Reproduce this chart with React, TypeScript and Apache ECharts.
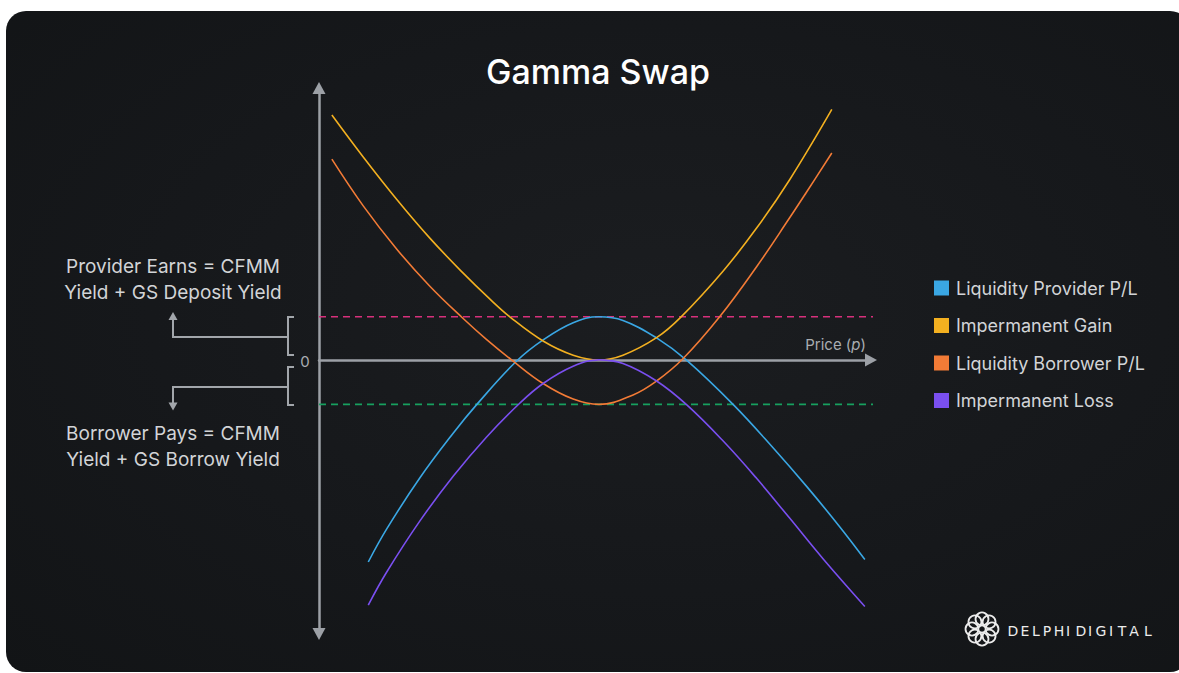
import React, { useEffect, useRef } from "react";
import * as echarts from "echarts";

// Curve samples: [price, P/L] pairs, price axis 0..~99, P/L axis centred on 0
const providerPL: [number, number][] = [
  [8.8, -72.7], [12.1, -60.8], [18.0, -42.5], [24.0, -26.3], [28.2, -16.0], [35.3, -0.4],
  [40.1, 7.3], [45.4, 13.4], [50, 15.5], [54.3, 14.2], [60.3, 7.9], [65.7, -0.2],
  [74.0, -16.1], [81.1, -31.6], [87.1, -45.5], [93.0, -60.0], [97.5, -71.8],
];
const impermanentGain: [number, number][] = [
  [2.3, 88.1], [7.9, 73.0], [13.9, 57.7], [19.8, 43.8], [25.8, 31.1], [30.4, 22.1],
  [34.2, 15.3], [40.1, 6.7], [45.4, 1.7], [50, 0], [54.3, 1.7], [60.3, 8.0],
  [64.5, 15.1], [72.2, 32.0], [78.2, 47.5], [84.1, 64.9], [91.6, 90.1],
];
const borrowerPL: [number, number][] = [
  [2.3, 72.2], [7.9, 55.4], [13.9, 39.8], [19.8, 26.5], [25.8, 14.8], [29.9, 7.4],
  [34.4, 0], [40.1, -8.6], [45.4, -14.1], [50, -16.0], [56.1, -12.6], [60.3, -7.6],
  [65.0, 0.4], [71.6, 15.6], [78.2, 33.6], [84.1, 51.2], [87.1, 60.4], [91.6, 74.4],
];
const impermanentLoss: [number, number][] = [
  [8.8, -88.2], [12.1, -76.3], [18.0, -58.0], [24.0, -41.8], [29.9, -27.8], [35.9, -15.5],
  [40.1, -8.4], [45.4, -2.3], [50, 0], [54.3, -1.3], [60.3, -7.6], [65.7, -16.2],
  [72.2, -29.2], [78.2, -42.7], [84.1, -57.0], [90.1, -71.7], [97.5, -88.7],
];

const seriesNames = [
  "Liquidity Provider P/L",
  "Impermanent Gain",
  "Liquidity Borrower P/L",
  "Impermanent Loss",
];
const seriesColors = ["#3aa7e4", "#f3b020", "#f27b36", "#7a4ff0"];
const seriesData = [providerPL, impermanentGain, borrowerPL, impermanentLoss];

// Yield levels (dashed guides) and the price span they cover
const depositYield = 15.5;
const borrowYield = -16.0;
const guideSpan = [0, 99.6];

// Brand wordmark letters
const brandLetters = ["D", "E", "L", "P", "H", "I", "D", "I", "G", "I", "T", "A", "L"];
const brandLetterX = [1013, 1025, 1036, 1047, 1059, 1068, 1081, 1090, 1101, 1111, 1122, 1134, 1148];

const axisGray = "#9ca0a6";
const textGray = "#d2d4d7";
const FONT = "Inter, 'Noto Sans', sans-serif";

function App() {
  const ref = useRef<HTMLDivElement>(null);

  useEffect(() => {
    if (!ref.current) return;
    const chart = echarts.init(ref.current, null, { renderer: "svg" });

    const curves = seriesData.map((data, i) => ({
      name: seriesNames[i],
      type: "line",
      data,
      smooth: 0.4,
      showSymbol: false,
      symbol: "none",
      itemStyle: { color: seriesColors[i] },
      lineStyle: { color: seriesColors[i], width: 1.6 },
      z: 3,
    }));

    const guide = (name: string, level: number, color: string) => ({
      name,
      type: "line",
      data: guideSpan.map((p) => [p, level]),
      showSymbol: false,
      symbol: "none",
      clip: false,
      silent: true,
      lineStyle: { color, width: 1.6, type: [7, 5] },
      z: 2,
    });

    const bracketStroke = { stroke: "#a2a6ab", lineWidth: 2, fill: "none" };
    const ringCenters = Array.from({ length: 8 }, (_, k) => {
      const a = (k / 8) * Math.PI * 2;
      return { cx: 982 + 10 * Math.cos(a), cy: 629 + 10 * Math.sin(a) };
    });

    chart.setOption({
      animation: false,
      backgroundColor: "transparent",
      textStyle: { fontFamily: FONT },
      grid: { left: 319, top: 88, width: 552, height: 546 },
      xAxis: {
        type: "value",
        min: 0,
        max: 98.6,
        axisLine: {
          onZero: true,
          symbol: ["none", "triangle"],
          symbolSize: [13, 12],
          lineStyle: { color: axisGray, width: 2.5 },
        },
        axisTick: { show: false },
        axisLabel: { show: false },
        splitLine: { show: false },
      },
      yAxis: {
        type: "value",
        min: -98.6,
        max: 97.8,
        axisLine: {
          show: true,
          symbol: ["triangle", "triangle"],
          symbolSize: [13, 12],
          lineStyle: { color: axisGray, width: 2.5 },
        },
        axisTick: { show: false },
        axisLabel: { show: false },
        splitLine: { show: false },
      },
      legend: {
        data: seriesNames,
        orient: "vertical",
        left: 929,
        top: 273,
        icon: "rect",
        itemWidth: 15,
        itemHeight: 15,
        itemGap: 17.5,
        textStyle: {
          color: textGray,
          fontSize: 18,
          lineHeight: 20,
          fontFamily: FONT,
          padding: [0, 0, 0, 2],
        },
      },
      series: [
        guide("GS Deposit Yield", depositYield, "#d8307c"),
        guide("GS Borrow Yield", borrowYield, "#17a05f"),
        ...curves,
      ],
      graphic: [
        {
          type: "text",
          x: 598,
          y: 71,
          style: {
            text: "Gamma Swap",
            fill: "#ffffff",
            font: `500 34px ${FONT}`,
            align: "center",
            verticalAlign: "middle",
          },
        },
        {
          type: "text",
          x: 173,
          y: 279,
          style: {
            text: "Provider Earns = CFMM\nYield + GS Deposit Yield",
            fill: textGray,
            font: `400 19px ${FONT}`,
            lineHeight: 26,
            align: "center",
            verticalAlign: "middle",
          },
        },
        {
          type: "text",
          x: 173,
          y: 446,
          style: {
            text: "Borrower Pays = CFMM\nYield + GS Borrow Yield",
            fill: textGray,
            font: `400 19px ${FONT}`,
            lineHeight: 26,
            align: "center",
            verticalAlign: "middle",
          },
        },
        {
          type: "text",
          x: 305,
          y: 361,
          style: {
            text: "0",
            fill: "#a9adb2",
            font: `400 15px ${FONT}`,
            align: "center",
            verticalAlign: "middle",
          },
        },
        {
          type: "text",
          x: 866,
          y: 344,
          style: {
            text: "Price ({i|p})",
            fill: "#a9adb2",
            font: `400 15px ${FONT}`,
            align: "right",
            verticalAlign: "middle",
            rich: {
              i: { fontStyle: "italic", fontSize: 15, fill: "#a9adb2", fontFamily: FONT },
            },
          },
        },
        // upper bracket and arrow
        {
          type: "polyline",
          shape: { points: [[294, 317], [288, 317], [288, 355], [294, 355]] },
          style: bracketStroke,
        },
        {
          type: "polyline",
          shape: { points: [[288, 337], [173, 337], [173, 319]] },
          style: bracketStroke,
        },
        {
          type: "polygon",
          shape: { points: [[173, 312], [177.5, 320], [168.5, 320]] },
          style: { fill: "#a2a6ab" },
        },
        // lower bracket and arrow
        {
          type: "polyline",
          shape: { points: [[294, 367], [288, 367], [288, 405], [294, 405]] },
          style: bracketStroke,
        },
        {
          type: "polyline",
          shape: { points: [[288, 387], [173, 387], [173, 403]] },
          style: bracketStroke,
        },
        {
          type: "polygon",
          shape: { points: [[173, 410.5], [177.5, 402.5], [168.5, 402.5]] },
          style: { fill: "#a2a6ab" },
        },
        // brand mark
        ...ringCenters.map((c) => ({
          type: "circle",
          shape: { cx: c.cx, cy: c.cy, r: 6.5 },
          style: { fill: "none", stroke: "#ececec", lineWidth: 1.8 },
        })),
        ...brandLetters.map((ch, i) => ({
          type: "text",
          x: brandLetterX[i],
          y: 631,
          style: {
            text: ch,
            fill: "#ececec",
            font: `500 14px 'DejaVu Sans', sans-serif`,
            align: "center",
            verticalAlign: "middle",
          },
        })),
      ],
    });

    return () => chart.dispose();
  }, []);

  return (
    <div
      style={{
        position: "fixed",
        left: 0,
        top: 0,
        width: 1179,
        height: 673,
        background: "#ffffff",
        overflow: "hidden",
      }}
    >
      <div
        style={{
          position: "absolute",
          left: 6,
          top: 11,
          width: 1184,
          height: 661,
          borderRadius: 20,
          background:
            "radial-gradient(ellipse at 55% 45%, #1b1d20 0%, #16181b 55%, #121416 100%)",
        }}
      />
      <div ref={ref} style={{ position: "absolute", left: 0, top: 0, width: 1179, height: 673 }} />
    </div>
  );
}

export default App;
